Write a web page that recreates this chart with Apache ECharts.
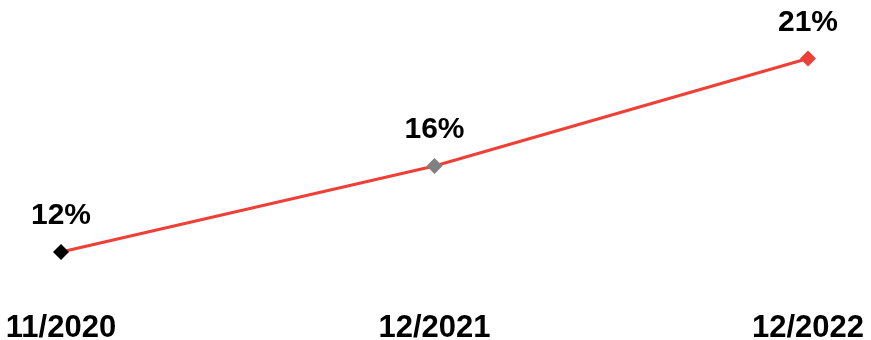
<!DOCTYPE html>
<html>
<head>
<meta charset="utf-8">
<script src="https://cdn.jsdelivr.net/npm/echarts@6/dist/echarts.min.js"></script>
<style>
html,body{margin:0;padding:0;background:#fff;}
#chart{width:871px;height:340px;}
</style>
</head>
<body>
<div id="chart"></div>
<script>
var categories = ['11/2020', '12/2021', '12/2022'];
var values = [12, 16, 21];
var markerColors = ['#000000', '#808080', '#EE4036'];

var chart = echarts.init(document.getElementById('chart'), null, {renderer: 'canvas'});
var fontFam = '"Liberation Sans", Arial, sans-serif';
chart.setOption({
  animation: false,
  grid: {left: 61, right: 63, top: 37, bottom: 45, containLabel: false, outerBoundsMode: 'none'},
  xAxis: {
    type: 'category',
    data: categories,
    boundaryGap: false,
    axisLine: {show: false},
    axisTick: {show: false},
    splitLine: {show: false},
    axisLabel: {
      margin: 18,
      color: '#000',
      fontSize: 31,
      fontWeight: 'bold',
      fontFamily: fontFam
    }
  },
  yAxis: {
    type: 'value',
    min: 10,
    max: 22,
    show: false
  },
  series: [{
    type: 'line',
    data: values.map(function (v, i) {
      return {value: v, itemStyle: {color: markerColors[i]}};
    }),
    symbol: 'diamond',
    symbolSize: 16,
    lineStyle: {color: '#EE4036', width: 3},
    label: {
      show: true,
      position: 'top',
      distance: 13,
      formatter: '{c}%',
      color: '#000',
      fontSize: 30,
      fontWeight: 'bold',
      fontFamily: fontFam
    }
  }]
});
</script>
</body>
</html>
